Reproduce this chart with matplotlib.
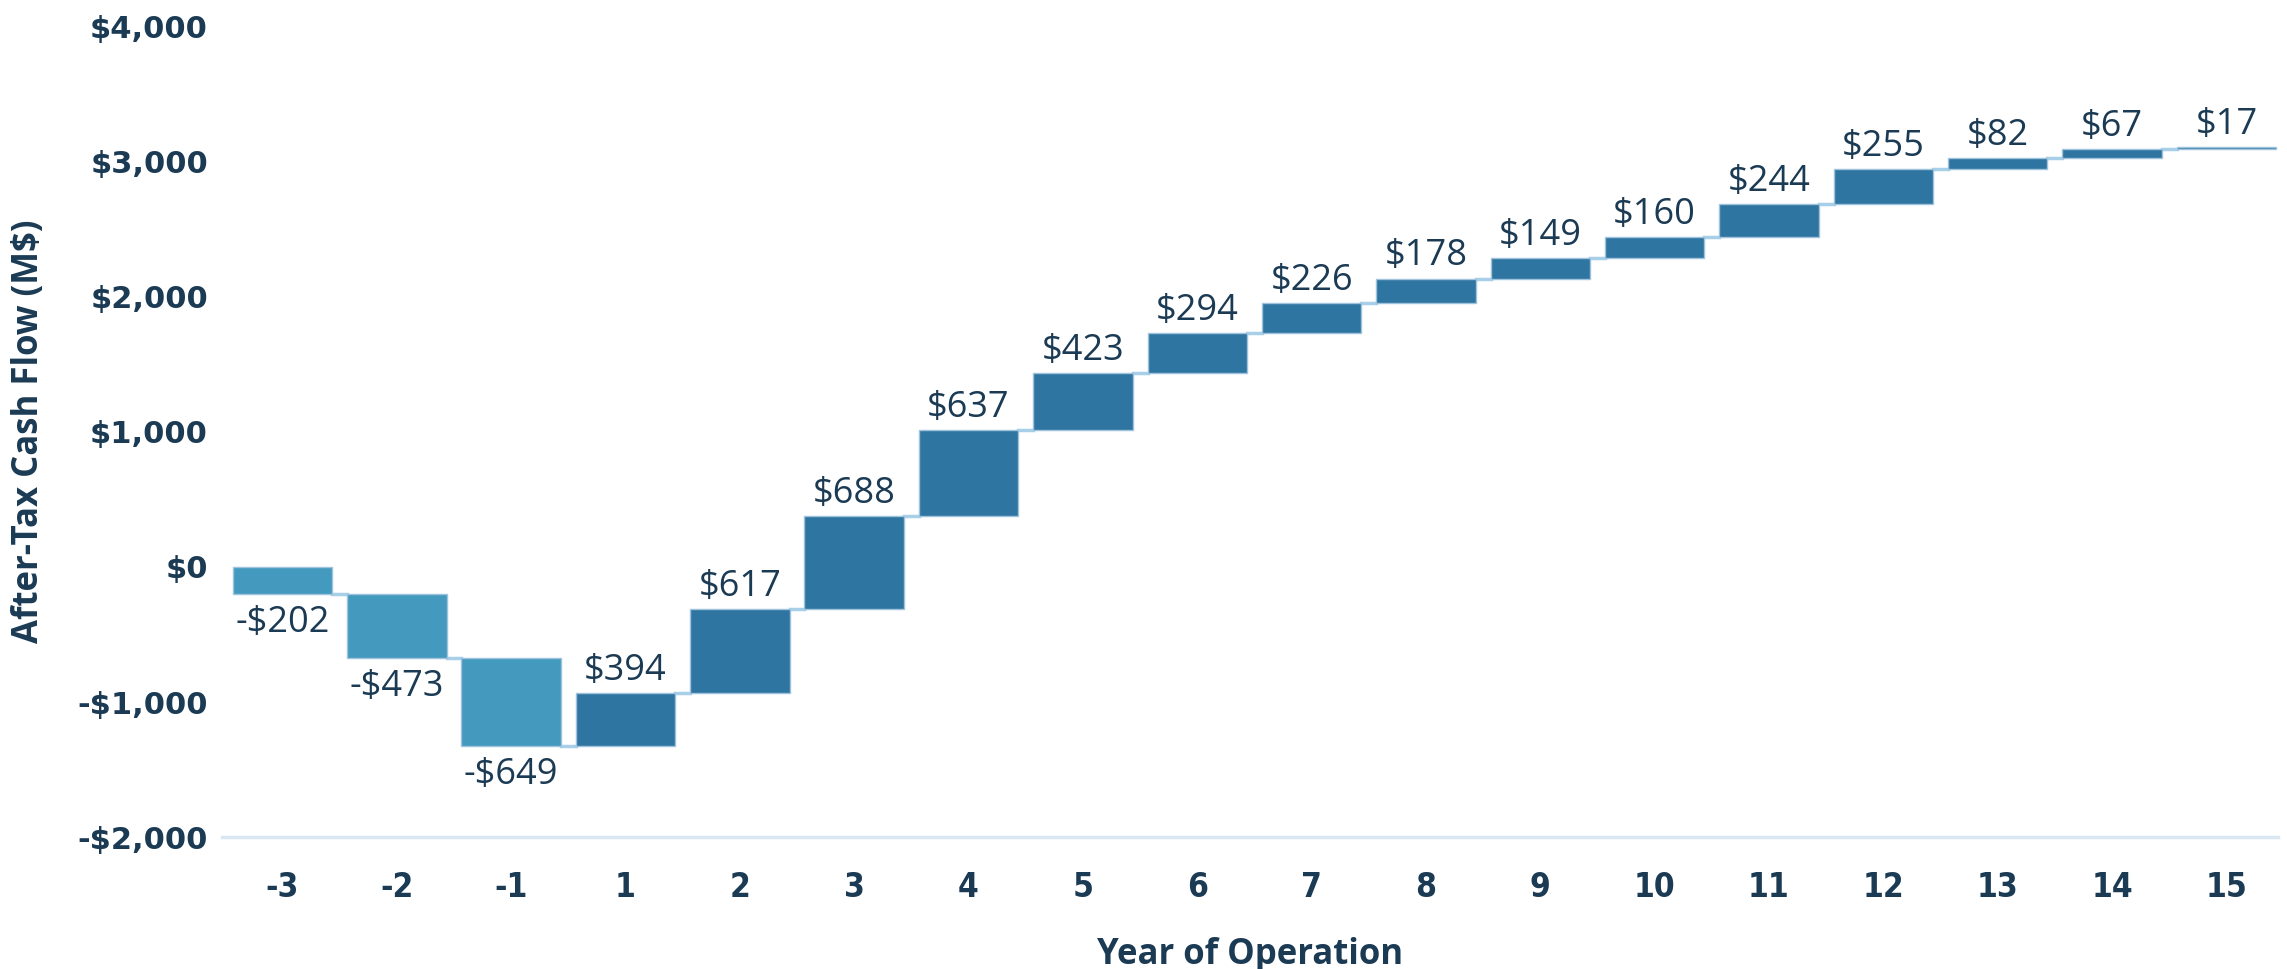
import numpy as np
import matplotlib
matplotlib.use("Agg")
import matplotlib.pyplot as plt

# Datos del gráfico (M$)
years = ['-3', '-2', '-1', '1', '2', '3', '4', '5', '6', '7', '8', '9',
         '10', '11', '12', '13', '14', '15']
cash_flow = [-202, -473, -649, 394, 617, 688, 637, 423, 294, 226, 178, 149,
             160, 244, 255, 82, 67, 17]
y_ticks = [-2000, -1000, 0, 1000, 2000, 3000, 4000]

text_col = '#1b3a54'
neg_col = '#4399be'
pos_col = '#2e75a1'
link_col = '#a8cfe8'

vals = np.array(cash_flow)
ends = np.cumsum(vals)
starts = ends - vals
x = np.arange(len(years))

fig = plt.figure(figsize=(22.87, 9.69), dpi=100)
ax = fig.add_axes([0.097, 0.136, 0.899, 0.837])

colors = [neg_col if v < 0 else pos_col for v in vals]
ax.bar(x, vals, bottom=starts, width=0.87, color=colors,
       edgecolor='#9fc3dc', linewidth=1.0, zorder=3)

# líneas de conexión
for i in range(len(x) - 1):
    ax.plot([x[i] + 0.435, x[i + 1] - 0.435], [ends[i], ends[i]],
            color=link_col, lw=2.5, zorder=2)

# etiquetas de valores
for i, v in enumerate(vals):
    if v < 0:
        lab = '-${:,}'.format(abs(v))
        ax.text(x[i], min(starts[i], ends[i]) - 80, lab, ha='center', va='top',
                fontsize=26, color=text_col, family='Open Sans')
    else:
        lab = '${:,}'.format(v)
        ax.text(x[i], max(starts[i], ends[i]) + 30, lab, ha='center', va='bottom',
                fontsize=26, color=text_col, family='Open Sans')

ax.set_xlim(-0.53, 17.45)
ax.set_ylim(-2000, 4000)
ax.set_xticks(x)
ax.set_xticklabels(years, fontsize=24, fontweight='bold', color=text_col,
                   family='DejaVu Sans', fontstretch='condensed')
ax.set_yticks(y_ticks)
ax.set_yticklabels(['-${:,}'.format(abs(t)) if t < 0 else '${:,}'.format(t)
                    for t in y_ticks],
                   fontsize=22, fontweight='heavy', color=text_col,
                   family='DejaVu Sans')
ax.tick_params(axis='both', length=0)
ax.tick_params(axis='x', pad=24)
ax.tick_params(axis='y', pad=10)

for s in ['top', 'right', 'left']:
    ax.spines[s].set_visible(False)
ax.spines['bottom'].set_color('#d8e7f1')
ax.spines['bottom'].set_linewidth(2.5)

ax.set_xlabel('Year of Operation', fontsize=25, fontweight='bold',
              color=text_col, family='Open Sans', labelpad=24)
ax.set_ylabel('After-Tax Cash Flow (M$)', fontsize=25, fontweight='bold',
              color=text_col, family='Open Sans', labelpad=22)

fig.savefig('out.png', dpi=100)
